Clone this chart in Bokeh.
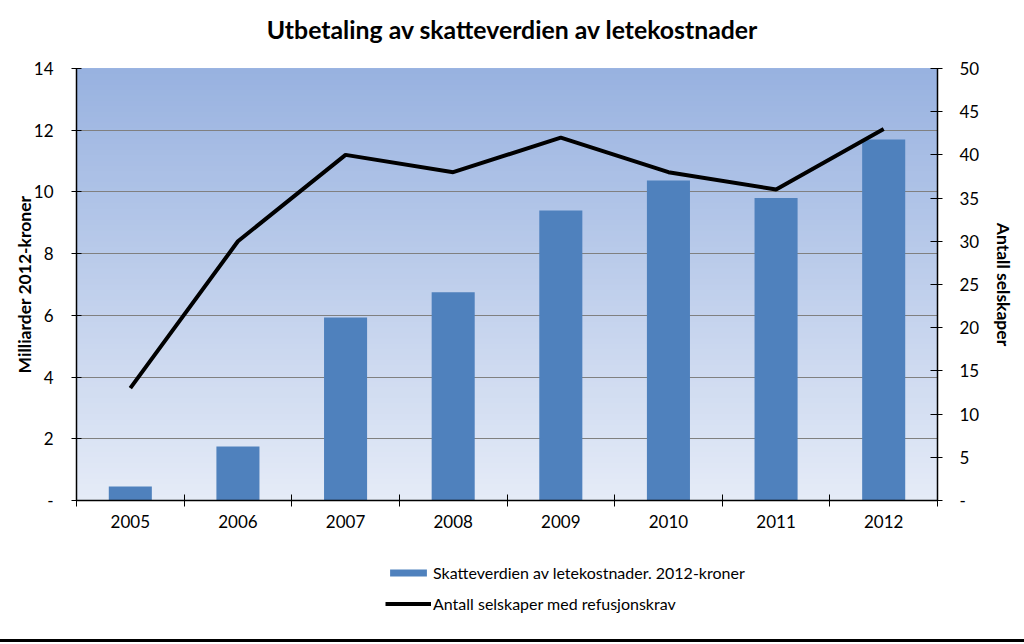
from bokeh.plotting import figure
from bokeh.layouts import column
from bokeh.models import (Range1d, LinearAxis, FixedTicker, BoxAnnotation, Legend, LegendItem, Div)
from bokeh.embed import file_html
from bokeh.resources import INLINE

# ---- data ----
title_text = "Utbetaling av skatteverdien av letekostnader"
years = ["2005", "2006", "2007", "2008", "2009", "2010", "2011", "2012"]
skatteverdi = [0.45, 1.75, 5.93, 6.75, 9.40, 10.37, 9.80, 11.70]   # Milliarder 2012-kroner
antall = [13, 30, 40, 38, 42, 38, 36, 43]                          # Antall selskaper
left_ticks = [0, 2, 4, 6, 8, 10, 12, 14]
right_ticks = [0, 5, 10, 15, 20, 25, 30, 35, 40, 45, 50]
bar_label = "Skatteverdien av letekostnader. 2012-kroner"
line_label = "Antall selskaper med refusjonskrav"

FONT = "Lato"
BAR_COLOR = "#4f81bd"
xs = list(range(len(years)))

title_div = Div(text='<div style="width:1024px;text-align:center;font-family:Lato;font-weight:bold;'
                     'font-size:24.8px;color:#000;padding-top:15px;line-height:29px;">'
                     + title_text + '</div>',
                width=1024, height=50, margin=0)

p = figure(width=1024, height=495, output_backend="svg", toolbar_location=None,
           x_range=Range1d(-0.5, len(years) - 0.5), y_range=Range1d(0, 14),
           min_border_left=76, min_border_right=87, min_border_top=18, min_border_bottom=45)
p.extra_y_ranges = {"n": Range1d(0, 50)}

p.outline_line_color = None
p.background_fill_color = None
p.border_fill_color = "white"

# gradient background
n = 80
top_c = (152, 178, 224)
bot_c = (229, 235, 247)
for i in range(n):
    t = i / (n - 1)
    c = tuple(int(round(bot_c[k] + (top_c[k] - bot_c[k]) * t)) for k in range(3))
    p.add_layout(BoxAnnotation(bottom=14 * i / n, top=14,
                               fill_color="#%02x%02x%02x" % c, fill_alpha=1.0,
                               line_color=None, level="image"))

# grid
p.xgrid.grid_line_color = None
p.ygrid.ticker = FixedTicker(ticks=left_ticks)
p.ygrid.grid_line_color = "#808080"
p.ygrid.grid_line_width = 1

bars = p.vbar(x=xs, top=skatteverdi, width=0.4, color=BAR_COLOR, line_color=None)
line = p.line(x=xs, y=antall, y_range_name="n", line_color="black", line_width=4)

# axes
p.xaxis.ticker = FixedTicker(ticks=xs, minor_ticks=[x - 0.5 for x in xs] + [len(xs) - 0.5])
p.xaxis.major_label_overrides = {i: y for i, y in enumerate(years)}
p.xaxis.major_tick_line_color = None
p.xaxis.minor_tick_in = 6
p.xaxis.minor_tick_out = 6
p.xaxis.minor_tick_line_color = "black"
p.xaxis.axis_line_color = "black"
p.xaxis.axis_line_width = 1.5
p.xaxis.major_label_text_font = FONT
p.xaxis.major_label_text_font_size = "17px"
p.xaxis.major_label_text_color = "black"
p.xaxis.major_label_standoff = 8

ya = p.yaxis[0]
ya.ticker = FixedTicker(ticks=left_ticks)
ya.major_label_overrides = {0: "-"}
ya.minor_tick_line_color = None
ya.major_tick_in = 5
ya.major_tick_out = 5
ya.axis_line_width = 1.5
ya.major_label_text_font = FONT
ya.major_label_text_font_size = "17px"
ya.major_label_text_color = "black"
ya.major_label_standoff = 18
ya.axis_label = "Milliarder 2012-kroner"
ya.axis_label_text_font = FONT
ya.axis_label_text_font_size = "17.5px"
ya.axis_label_text_font_style = "bold"
ya.axis_label_text_color = "black"
ya.axis_label_standoff = -4

ra = LinearAxis(y_range_name="n", ticker=FixedTicker(ticks=right_ticks))
ra.major_label_overrides = {0: "-"}
ra.minor_tick_line_color = None
ra.major_tick_in = 7
ra.major_tick_out = 5
ra.axis_line_width = 1.5
ra.major_label_text_font = FONT
ra.major_label_text_font_size = "17px"
ra.major_label_text_color = "black"
ra.major_label_standoff = 17
ra.axis_label = "Antall selskaper"
ra.axis_label_text_font = FONT
ra.axis_label_text_font_size = "17.5px"
ra.axis_label_text_font_style = "bold"
ra.axis_label_text_color = "black"
ra.axis_label_standoff = 11
p.add_layout(ra, "right")

# legend strip below the chart (frame is aligned with the chart above)
q = figure(width=1024, height=94, output_backend="svg", toolbar_location=None,
           x_range=Range1d(0, 1), y_range=Range1d(0, 1),
           x_axis_location=None, y_axis_location=None,
           min_border_left=76, min_border_right=87, min_border_top=0, min_border_bottom=0)
q.grid.visible = False
q.outline_line_color = None
q.background_fill_color = "white"
q.border_fill_color = "white"
# legend-only proxies, placed outside the visible range
lb = q.vbar(x=[-10], top=[-10], width=0.1, color=BAR_COLOR, line_color=None)
ll = q.line(x=[-10, -9], y=[-10, -10], line_color="black", line_width=4)
legend = Legend(items=[LegendItem(label=bar_label, renderers=[lb]),
                       LegendItem(label=line_label, renderers=[ll])],
                location=(309, 26), orientation="vertical",
                glyph_width=46, glyph_height=9, label_height=20, spacing=11,
                label_standoff=2, padding=0, margin=0,
                border_line_color=None, background_fill_alpha=0,
                label_text_font=FONT, label_text_font_size="16px", label_text_color="black")
q.add_layout(legend, "center")

rule = Div(text='<div style="width:1024px;height:3px;background:#000;"></div>',
           width=1024, height=3, margin=0, styles={"background-color": "#000"})

layout = column(title_div, p, q, rule, spacing=0)
open("out.html", "w").write(file_html(layout, INLINE))
